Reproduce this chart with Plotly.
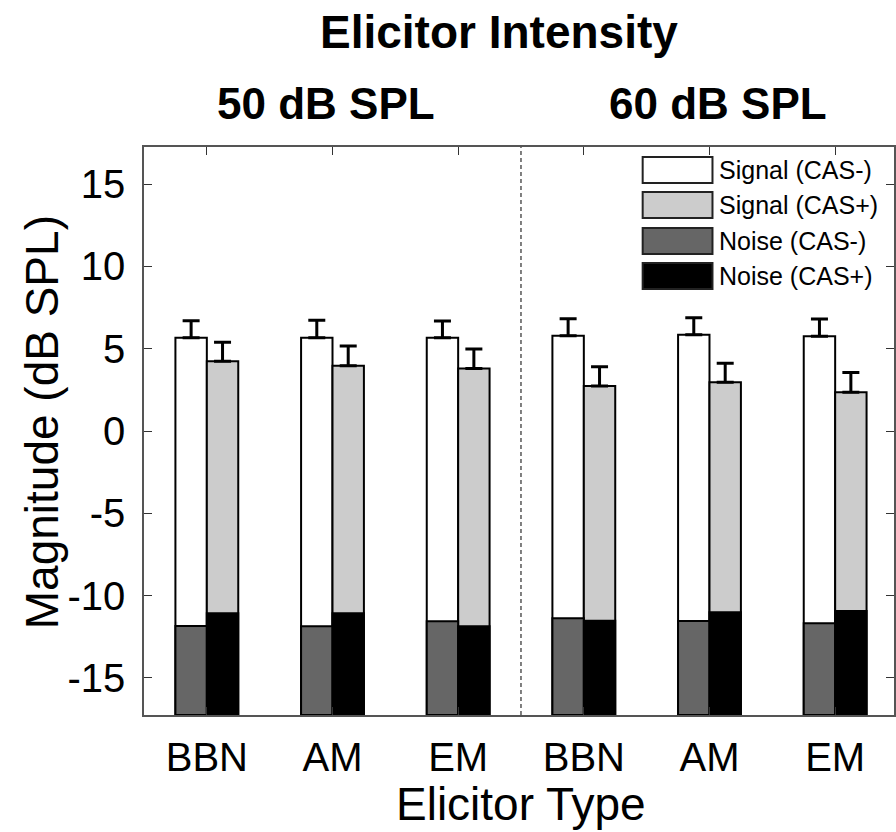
import plotly.graph_objects as go

# ---- data ----
positions = [1, 2, 3, 4, 5, 6]
tick_labels = ["BBN", "AM", "EM", "BBN", "AM", "EM"]
y_tick_vals = [-15, -10, -5, 0, 5, 10, 15]
y_tick_text = ["-15", "-10", "-5", "0", "5", "10", "15"]
intensity_labels = ["50 dB SPL", "60 dB SPL"]

signal_cas_minus = [5.66, 5.66, 5.66, 5.79, 5.85, 5.75]
signal_cas_minus_err = [1.04, 1.06, 1.02, 1.03, 1.03, 1.05]
signal_cas_plus = [4.23, 3.97, 3.79, 2.73, 2.96, 2.35]
signal_cas_plus_err = [1.16, 1.19, 1.19, 1.18, 1.15, 1.21]
noise_cas_minus = [-11.84, -11.86, -11.56, -11.37, -11.54, -11.68]
noise_cas_plus = [-11.07, -11.07, -11.86, -11.52, -11.01, -10.93]

series_names = ["Signal (CAS-)", "Signal (CAS+)", "Noise (CAS-)", "Noise (CAS+)"]
series_colors = ["#ffffff", "#cccccc", "#666666", "#000000"]

YMIN, YMAX = -17.25, 17.25
FONT = "Liberation Sans, Arial, sans-serif"

# ---- layout geometry (px) ----
W, H = 896, 832
ML, MR, MT, MB = 144, 0, 147, 117
PW = W - ML - MR
PH = H - MT - MB


def px_x(px):
    return (px - ML) / PW


def px_y(py):
    return (H - MB - py) / PH


fig = go.Figure()

bar_specs = [
    (signal_cas_minus, signal_cas_minus_err, -0.25, 0),
    (signal_cas_plus, signal_cas_plus_err, 0.0, 1),
    (noise_cas_minus, None, -0.25, 2),
    (noise_cas_plus, None, 0.0, 3),
]
for vals, errs, off, idx in bar_specs:
    kw = {}
    if errs is not None:
        kw["error_y"] = dict(type="data", array=errs, arrayminus=[0] * len(errs),
                             symmetric=False, color="black", thickness=3, width=8.5)
    fig.add_trace(go.Bar(
        x=positions,
        y=[v - YMIN for v in vals],
        base=YMIN,
        offset=off,
        width=0.25,
        name=series_names[idx],
        marker=dict(color=series_colors[idx], line=dict(color="black", width=2)),
        showlegend=False,
        **kw,
    ))

fig.update_layout(
    width=W, height=H,
    margin=dict(l=ML, r=MR, t=MT, b=MB, pad=0),
    barmode="overlay",
    plot_bgcolor="white",
    paper_bgcolor="white",
    font=dict(family=FONT, color="black"),
    xaxis=dict(
        range=[0.5, 0.5 + PW / 126.0],
        tickvals=positions,
        ticktext=tick_labels,
        ticks="inside", ticklen=8, tickcolor="#333",
        tickfont=dict(size=40, family=FONT),
        ticklabelstandoff=6,
        showline=True, linecolor="#555", linewidth=1.5,
        mirror="ticks", showgrid=False, zeroline=False,
    ),
    yaxis=dict(
        range=[YMIN, YMAX],
        tickvals=y_tick_vals,
        ticktext=y_tick_text,
        ticks="inside", ticklen=8, tickcolor="#333",
        tickfont=dict(size=40, family=FONT),
        ticklabelstandoff=9,
        showline=True, linecolor="#555", linewidth=1.5,
        mirror="ticks", showgrid=False, zeroline=False,
    ),
)

# dashed divider between intensity groups
fig.add_shape(type="line", xref="x", yref="paper", x0=3.5, x1=3.5, y0=0, y1=1,
              line=dict(color="black", width=1, dash="4px,3px"))

# manual legend with large swatches
legend_tops = [157, 192, 228, 263]
for i, name in enumerate(series_names):
    top = legend_tops[i]
    fig.add_shape(type="rect", xref="paper", yref="paper",
                  x0=px_x(644), x1=px_x(714), y0=px_y(top + 26), y1=px_y(top),
                  fillcolor=series_colors[i], line=dict(color="#222", width=2))
    fig.add_annotation(xref="paper", yref="paper", x=px_x(719), y=px_y(top + 13),
                       text=name, showarrow=False, xanchor="left", yanchor="middle",
                       font=dict(size=25, family=FONT, color="black"))

# titles
fig.add_annotation(xref="paper", yref="paper", x=px_x(500), y=px_y(32),
                   text="<b>Elicitor Intensity</b>", showarrow=False,
                   xanchor="center", yanchor="middle", font=dict(size=46, family=FONT))
for lbl, cx in zip(intensity_labels, [326, 720]):
    fig.add_annotation(xref="paper", yref="paper", x=px_x(cx), y=px_y(103),
                       text="<b>%s</b>" % lbl, showarrow=False,
                       xanchor="center", yanchor="middle", font=dict(size=44, family=FONT))

# axis titles
fig.add_annotation(xref="paper", yref="paper", x=px_x(522), y=px_y(804),
                   text="Elicitor Type", showarrow=False,
                   xanchor="center", yanchor="middle", font=dict(size=46, family=FONT))
fig.add_annotation(xref="paper", yref="paper", x=px_x(42), y=px_y(422),
                   text="Magnitude (dB SPL)", showarrow=False, textangle=-90,
                   xanchor="center", yanchor="middle", font=dict(size=46, family=FONT))

fig.write_html("out.html")
